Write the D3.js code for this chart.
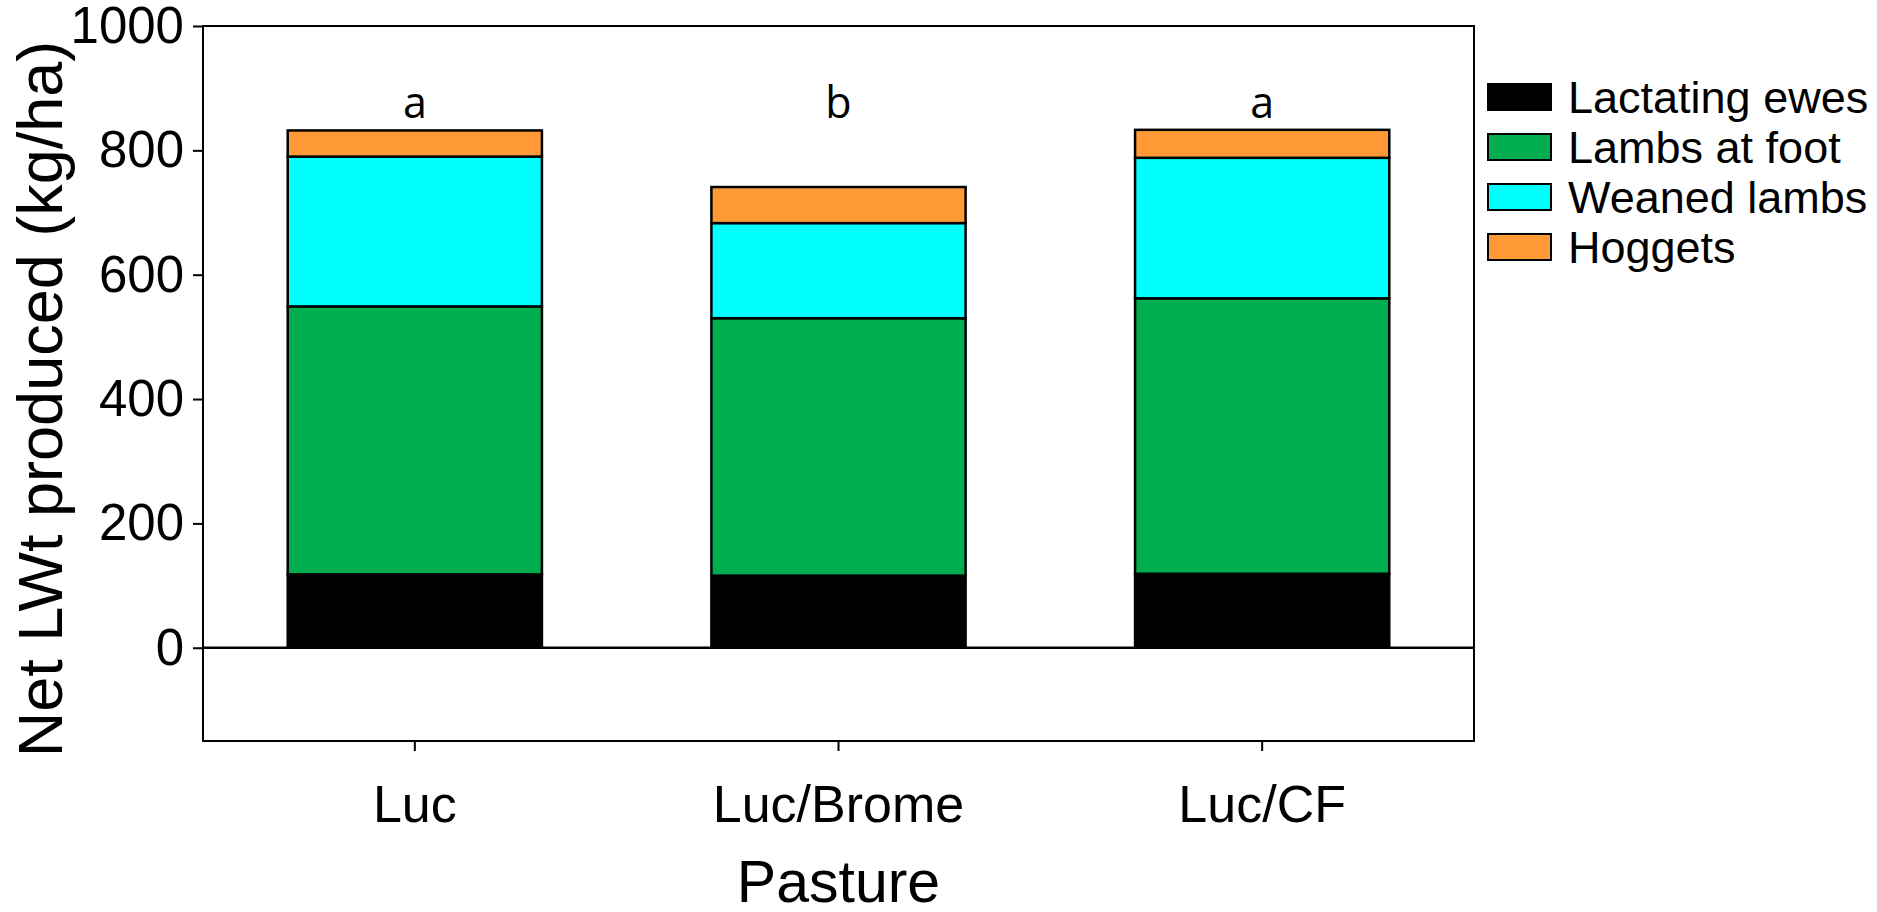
<!DOCTYPE html>
<html lang="en">
    <head>
        <title>Net LWt produced</title>
        <meta charset="utf-8">
        <script src="https://d3js.org/d3.v7.min.js"></script>
        <style>
            body { margin: 0; background: #fff; }
            svg { display: block; }
            text { font-family: "Liberation Sans", Arial, sans-serif; fill: #000; }
            .sig { font-family: "Open Sans", "Noto Sans", sans-serif; }
        </style>
    </head>
    <body>
        <div id="chart"></div>

        <script>

            // data (kg/ha)
            var categories = ["Luc", "Luc/Brome", "Luc/CF"];
            var lactatingEwes = [118, 116, 119];
            var lambsAtFoot = [431, 414, 443];
            var weanedLambs = [241, 153, 226];
            var hoggets = [42, 58, 45];
            var sigLetters = ["a", "b", "a"];
            var seriesNames = ["Lactating ewes", "Lambs at foot", "Weaned lambs", "Hoggets"];
            var seriesColors = ["#000000", "#00ae50", "#00ffff", "#ff9a36"];
            var yTicks = [0, 200, 400, 600, 800, 1000];

            var W = 1877, H = 912;
            var margin = {top: 26, right: 403, bottom: 171, left: 203};
            var width = W - margin.left - margin.right;
            var height = H - margin.top - margin.bottom;

            // build rows for the stack
            var rows = categories.map(function(c, i) {
                return {
                    cat: c,
                    "Lactating ewes": lactatingEwes[i],
                    "Lambs at foot": lambsAtFoot[i],
                    "Weaned lambs": weanedLambs[i],
                    "Hoggets": hoggets[i]
                };
            });
            var stacked = d3.stack().keys(seriesNames)(rows);

            var x = d3.scaleBand()
                      .domain(categories)
                      .range([0, width])
                      .paddingInner(0.4)
                      .paddingOuter(0.2);

            var y = d3.scaleLinear()
                      .domain([-150, 1000])
                      .range([height, 0]);

            var color = d3.scaleOrdinal().domain(seriesNames).range(seriesColors);

            var svg = d3.select("#chart").append("svg")
                        .attr("width", W)
                        .attr("height", H);

            var g = svg.append("g")
                       .attr("transform", "translate(" + margin.left + "," + margin.top + ")");

            // stacked bars
            g.selectAll(".layer")
             .data(stacked)
             .enter().append("g")
             .attr("class", "layer")
             .attr("fill", function(d) { return color(d.key); })
             .selectAll("rect")
             .data(function(d) { return d; })
             .enter().append("rect")
             .attr("x", function(d) { return x(d.data.cat); })
             .attr("width", x.bandwidth())
             .attr("y", function(d) { return y(d[1]); })
             .attr("height", function(d) { return y(d[0]) - y(d[1]); })
             .attr("stroke", "#000")
             .attr("stroke-width", 2.5);

            // zero line
            g.append("line")
             .attr("x1", 0).attr("x2", width)
             .attr("y1", y(0)).attr("y2", y(0))
             .attr("stroke", "#000").attr("stroke-width", 2.5);

            // frame
            g.append("rect")
             .attr("width", width).attr("height", height)
             .attr("fill", "none").attr("stroke", "#000").attr("stroke-width", 2);

            // y axis
            var yAxis = g.append("g")
                         .call(d3.axisLeft(y).tickValues(yTicks).tickFormat(d3.format("d"))
                                 .tickSize(10).tickPadding(9));
            yAxis.select(".domain").remove();
            yAxis.selectAll("line").attr("stroke", "#000").attr("stroke-width", 2);
            yAxis.selectAll("text")
                 .style("font-family", "'Liberation Sans', Arial, sans-serif")
                 .style("font-size", "51px")
                 .attr("fill", "#000");

            // x axis
            var xAxis = g.append("g")
                         .attr("transform", "translate(0," + height + ")")
                         .call(d3.axisBottom(x).tickSize(10).tickPadding(34));
            xAxis.select(".domain").remove();
            xAxis.selectAll("line").attr("stroke", "#000").attr("stroke-width", 2);
            xAxis.selectAll("text")
                 .style("font-family", "'Liberation Sans', Arial, sans-serif")
                 .style("font-size", "52px")
                 .attr("fill", "#000");

            // significance letters
            g.selectAll(".sig")
             .data(categories)
             .enter().append("text")
             .attr("class", "sig")
             .attr("x", function(d) { return x(d) + x.bandwidth() / 2; })
             .attr("y", y(852))
             .attr("text-anchor", "middle")
             .style("font-size", "43px")
             .text(function(d, i) { return sigLetters[i]; });

            // axis titles
            svg.append("text")
               .attr("transform", "translate(62," + 399 + ") rotate(-90)")
               .attr("text-anchor", "middle")
               .style("font-size", "63px")
               .text("Net LWt produced  (kg/ha)");

            svg.append("text")
               .attr("x", margin.left + x("Luc/Brome") + x.bandwidth() / 2)
               .attr("y", 902)
               .attr("text-anchor", "middle")
               .style("font-size", "59px")
               .text("Pasture");

            // legend
            var legend = svg.append("g")
                            .attr("transform", "translate(1488,97)");
            var item = legend.selectAll(".item")
                             .data(seriesNames)
                             .enter().append("g")
                             .attr("class", "item")
                             .attr("transform", function(d, i) { return "translate(0," + (i * 50) + ")"; });
            item.append("rect")
                .attr("x", 0).attr("y", -13)
                .attr("width", 63).attr("height", 26)
                .attr("fill", function(d) { return color(d); })
                .attr("stroke", "#000").attr("stroke-width", 2);
            item.append("text")
                .attr("x", 80).attr("y", 16)
                .style("font-size", "45px")
                .text(function(d) { return d; });

        </script>
    </body>
</html>
